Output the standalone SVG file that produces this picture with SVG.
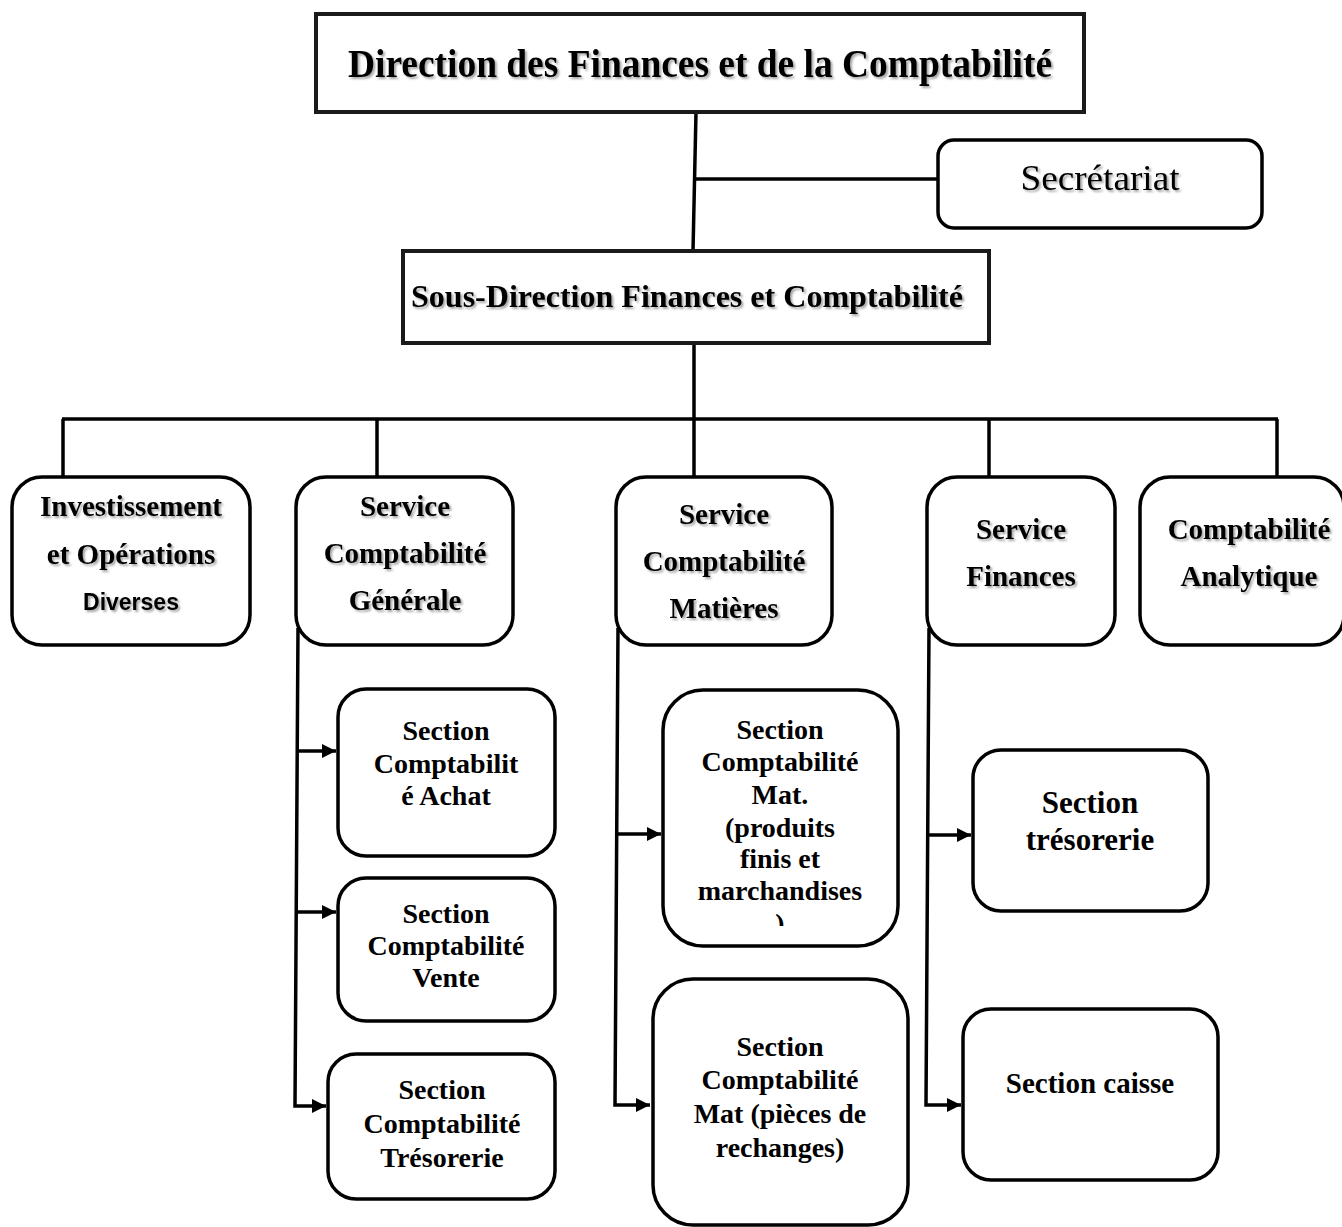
<svg xmlns="http://www.w3.org/2000/svg" width="1342" height="1227" viewBox="0 0 1342 1227">
  <defs>
    <style>
      .box { fill: #ffffff; stroke: #000000; stroke-width: 3.5; }
      .sq { fill: #ffffff; stroke: #1a1a1a; stroke-width: 4; }
      .link { fill: none; stroke: #000000; stroke-width: 3.5; }
      .t { font-family: "Liberation Serif", "Times New Roman", serif; font-weight: bold; fill: #000000; text-anchor: middle; }
      .svc { font-size: 29px; }
      .sec { font-size: 28px; }
      .sans { font-family: "Liberation Sans", Arial, sans-serif; font-weight: bold; font-size: 23px; fill: #000000; text-anchor: middle; }
      .reg { font-family: "Liberation Serif", "Times New Roman", serif; font-weight: normal; font-size: 36px; fill: #000000; text-anchor: middle; }
      .shadow { filter: url(#txtShadow); }
    </style>
    <filter id="txtShadow" x="-10%" y="-30%" width="120%" height="160%">
      <feDropShadow dx="2" dy="2" stdDeviation="1.2" flood-color="#000000" flood-opacity="0.35"/>
    </filter>
    <marker id="arrow" viewBox="0 0 14 14" refX="14" refY="7" markerWidth="14" markerHeight="14" markerUnits="userSpaceOnUse" orient="auto">
      <path d="M0,0 L14,7 L0,14 Z" fill="#000000"/>
    </marker>
    <clipPath id="parenClip">
      <rect x="760" y="900" width="40" height="26"/>
    </clipPath>
  </defs>

  <!-- connectors -->
  <g id="connectors">
    <!-- direction to sous-direction, with branch to secretariat -->
    <line class="link" x1="696" y1="112" x2="693" y2="251"/>
    <line class="link" x1="695" y1="179" x2="938" y2="179"/>
    <!-- sous-direction down to the service bar -->
    <line class="link" x1="694" y1="343" x2="694" y2="477"/>
    <line class="link" x1="62" y1="419" x2="1278" y2="419"/>
    <line class="link" x1="63" y1="419" x2="63" y2="477"/>
    <line class="link" x1="377" y1="419" x2="377" y2="477"/>
    <line class="link" x1="989" y1="419" x2="989" y2="477"/>
    <line class="link" x1="1277" y1="419" x2="1277" y2="477"/>
    <!-- comptabilite generale sections -->
    <polyline class="link" points="298,628 295,1106 326,1106" marker-end="url(#arrow)"/>
    <line class="link" x1="297" y1="751" x2="336" y2="751" marker-end="url(#arrow)"/>
    <line class="link" x1="296" y1="912" x2="336" y2="912" marker-end="url(#arrow)"/>
    <!-- comptabilite matieres sections -->
    <polyline class="link" points="618,628 615,1105 650,1105" marker-end="url(#arrow)"/>
    <line class="link" x1="617" y1="834" x2="661" y2="834" marker-end="url(#arrow)"/>
    <!-- finances sections -->
    <polyline class="link" points="929,628 926,1105 961,1105" marker-end="url(#arrow)"/>
    <line class="link" x1="928" y1="835" x2="971" y2="835" marker-end="url(#arrow)"/>
  </g>

  <!-- top level -->
  <g id="direction">
    <rect class="sq" x="316" y="14" width="768" height="98"/>
    <text class="t shadow" x="700" y="77" font-size="40" textLength="704" lengthAdjust="spacingAndGlyphs">Direction des Finances et de la Comptabilité</text>
  </g>

  <g id="secretariat">
    <rect class="box" x="938" y="140" width="324" height="88" rx="16"/>
    <text class="reg shadow" x="1100" y="190" textLength="159" lengthAdjust="spacingAndGlyphs">Secrétariat</text>
  </g>

  <g id="sous-direction">
    <rect class="sq" x="403" y="251" width="586" height="92"/>
    <text class="t shadow" x="687" y="307" font-size="31" textLength="552" lengthAdjust="spacingAndGlyphs">Sous-Direction Finances et Comptabilité</text>
  </g>

  <!-- services -->
  <g id="investissement">
    <rect class="box" x="12" y="477" width="238" height="168" rx="30"/>
    <text class="t svc shadow" x="131" y="516">Investissement</text>
    <text class="t svc shadow" x="131" y="564">et Opérations</text>
    <text class="sans shadow" x="131" y="610">Diverses</text>
  </g>

  <g id="service-comptabilite-generale">
    <rect class="box" x="296" y="477" width="217" height="168" rx="30"/>
    <text class="t svc shadow" x="405" y="516">Service</text>
    <text class="t svc shadow" x="405" y="563">Comptabilité</text>
    <text class="t svc shadow" x="405" y="610">Générale</text>
  </g>

  <g id="service-comptabilite-matieres">
    <rect class="box" x="616" y="477" width="216" height="168" rx="30"/>
    <text class="t svc shadow" x="724" y="524">Service</text>
    <text class="t svc shadow" x="724" y="571">Comptabilité</text>
    <text class="t svc shadow" x="724" y="618">Matières</text>
  </g>

  <g id="service-finances">
    <rect class="box" x="927" y="477" width="188" height="168" rx="30"/>
    <text class="t svc shadow" x="1021" y="539">Service</text>
    <text class="t svc shadow" x="1021" y="586">Finances</text>
  </g>

  <g id="comptabilite-analytique">
    <rect class="box" x="1140" y="477" width="204" height="168" rx="30"/>
    <text class="t svc shadow" x="1249" y="539">Comptabilité</text>
    <text class="t svc shadow" x="1249" y="586">Analytique</text>
  </g>

  <!-- sections under comptabilite generale -->
  <g id="section-achat">
    <rect class="box" x="338" y="689" width="217" height="167" rx="28"/>
    <text class="t sec" x="446" y="740">Section</text>
    <text class="t sec" x="446" y="773">Comptabilit</text>
    <text class="t sec" x="446" y="805">é Achat</text>
  </g>

  <g id="section-vente">
    <rect class="box" x="338" y="878" width="217" height="143" rx="28"/>
    <text class="t sec" x="446" y="923">Section</text>
    <text class="t sec" x="446" y="955">Comptabilité</text>
    <text class="t sec" x="446" y="987">Vente</text>
  </g>

  <g id="section-tresorerie-cg">
    <rect class="box" x="328" y="1054" width="227" height="145" rx="28"/>
    <text class="t sec" x="442" y="1099">Section</text>
    <text class="t sec" x="442" y="1133">Comptabilité</text>
    <text class="t sec" x="442" y="1167">Trésorerie</text>
  </g>

  <!-- sections under comptabilite matieres -->
  <g id="section-produits-finis">
    <rect class="box" x="663" y="690" width="235" height="256" rx="40"/>
    <text class="t sec" x="780" y="739">Section</text>
    <text class="t sec" x="780" y="771">Comptabilité</text>
    <text class="t sec" x="780" y="804">Mat.</text>
    <text class="t sec" x="780" y="837">(produits</text>
    <text class="t sec" x="780" y="868">finis et</text>
    <text class="t sec" x="780" y="900">marchandises</text>
    <text class="t sec" x="780" y="933" clip-path="url(#parenClip)">)</text>
  </g>

  <g id="section-pieces-rechange">
    <rect class="box" x="653" y="979" width="255" height="246" rx="40"/>
    <text class="t sec" x="780" y="1056">Section</text>
    <text class="t sec" x="780" y="1089">Comptabilité</text>
    <text class="t sec" x="780" y="1123">Mat (pièces de</text>
    <text class="t sec" x="780" y="1157">rechanges)</text>
  </g>

  <!-- sections under finances -->
  <g id="section-tresorerie">
    <rect class="box" x="973" y="750" width="235" height="161" rx="28"/>
    <text class="t" x="1090" y="813" font-size="31">Section</text>
    <text class="t" x="1090" y="850" font-size="31">trésorerie</text>
  </g>

  <g id="section-caisse">
    <rect class="box" x="963" y="1009" width="255" height="171" rx="28"/>
    <text class="t" x="1090" y="1093" font-size="29">Section caisse</text>
  </g>
</svg>
